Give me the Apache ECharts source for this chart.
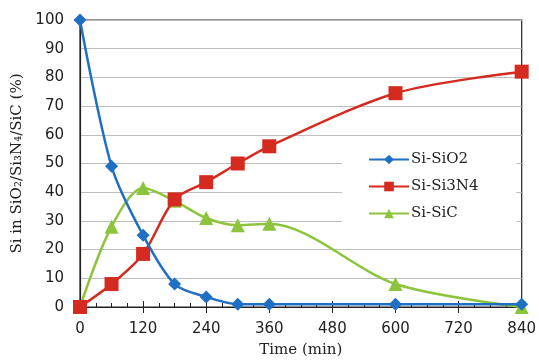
<!DOCTYPE html>
<html>
<head>
<meta charset="utf-8">
<script src="https://cdn.jsdelivr.net/npm/echarts@6/dist/echarts.min.js"></script>
<style>
  html, body { margin: 0; padding: 0; background: #fff; }
  #chart { width: 539px; height: 363px; }
</style>
</head>
<body>
<div id="chart"></div>
<script>
// time points (min)
const times = [0, 60, 120, 180, 240, 300, 360, 600, 840]
const siSiO2 = [100, 49, 25, 8, 3.5, 1, 1, 1, 1]
const siSi3N4 = [0, 8, 18.5, 37.5, 43.5, 50, 56, 74.5, 82]
const siSiC = [0, 28, 41.5, 37, 31, 28.5, 29, 8, 0]

const pairs = (ys) => times.map((t, i) => [t, ys[i]])

const chart = echarts.init(document.getElementById('chart'))

const tickFont = { color: '#222', fontSize: 15, fontFamily: 'DejaVu Sans' }
const serif = 'DejaVu Serif'

const options = {
  animation: false,
  grid: {
    left: 80,
    right: 15,
    top: 20,
    bottom: 53,
    show: true,
    borderColor: '#222',
    borderWidth: 1.2,
  },
  legend: {
    orient: 'vertical',
    left: 342,
    top: 146,
    itemWidth: 40,
    itemHeight: 12,
    itemGap: 12,
    backgroundColor: '#fff',
    padding: [6, 38, 8, 26],
    data: ['Si-SiO2', 'Si-Si3N4', 'Si-SiC'],
    textStyle: { color: '#222', fontSize: 15, fontFamily: serif, padding: [0, 0, 0, -3] },
  },
  xAxis: [
    {
      type: 'value',
      min: 0,
      max: 840,
      interval: 120,
      name: 'Time (min)',
      nameLocation: 'middle',
      nameGap: 36,
      nameTextStyle: { color: '#222', fontSize: 15, fontFamily: serif },
      axisLine: { lineStyle: { color: '#222', width: 1.2 } },
      axisTick: { show: true, inside: false, length: 6, lineStyle: { color: '#222' } },
      axisLabel: { ...tickFont, margin: 15 },
      splitLine: { show: false },
    },
    {
      // overlay for inside ticks and minor ticks
      type: 'value',
      min: 0,
      max: 840,
      interval: 120,
      position: 'bottom',
      axisLine: { show: false },
      axisTick: { show: true, inside: true, length: 6, lineStyle: { color: '#222' } },
      minorTick: { show: true, splitNumber: 4, length: 4, lineStyle: { color: '#222' } },
      axisLabel: { show: false },
      splitLine: { show: false },
    },
  ],
  yAxis: {
    type: 'value',
    min: 0,
    max: 100,
    interval: 10,
    name: 'Si in SiO₂/Si₃N₄/SiC (%)',
    nameLocation: 'middle',
    nameGap: 50,
    nameTextStyle: { color: '#222', fontSize: 15, fontFamily: serif },
    axisLine: { show: true, lineStyle: { color: '#222', width: 1.2 } },
    axisTick: { show: false },
    axisLabel: { ...tickFont, margin: 16 },
    splitLine: { show: true, lineStyle: { color: '#bdbdbd', width: 1 } },
  },
  series: [
    {
      name: 'Si-SiO2',
      type: 'line',
      smooth: 0.3,
      data: pairs(siSiO2),
      symbol: 'diamond',
      symbolSize: 13,
      lineStyle: { color: '#1f6fc4', width: 2.5 },
      itemStyle: { color: '#1f6fc4' },
      z: 4,
    },
    {
      name: 'Si-Si3N4',
      type: 'line',
      smooth: 0.3,
      data: pairs(siSi3N4),
      symbol: 'rect',
      symbolSize: 14,
      lineStyle: { color: '#d42a20', width: 2.5 },
      itemStyle: { color: '#d42a20' },
      z: 3,
    },
    {
      name: 'Si-SiC',
      type: 'line',
      smooth: 0.3,
      data: pairs(siSiC),
      symbol: 'triangle',
      symbolSize: 14,
      lineStyle: { color: '#8cc43c', width: 2.5 },
      itemStyle: { color: '#8cc43c' },
      z: 2,
    },
  ],
}

chart.setOption(options, true)
</script>
</body>
</html>
